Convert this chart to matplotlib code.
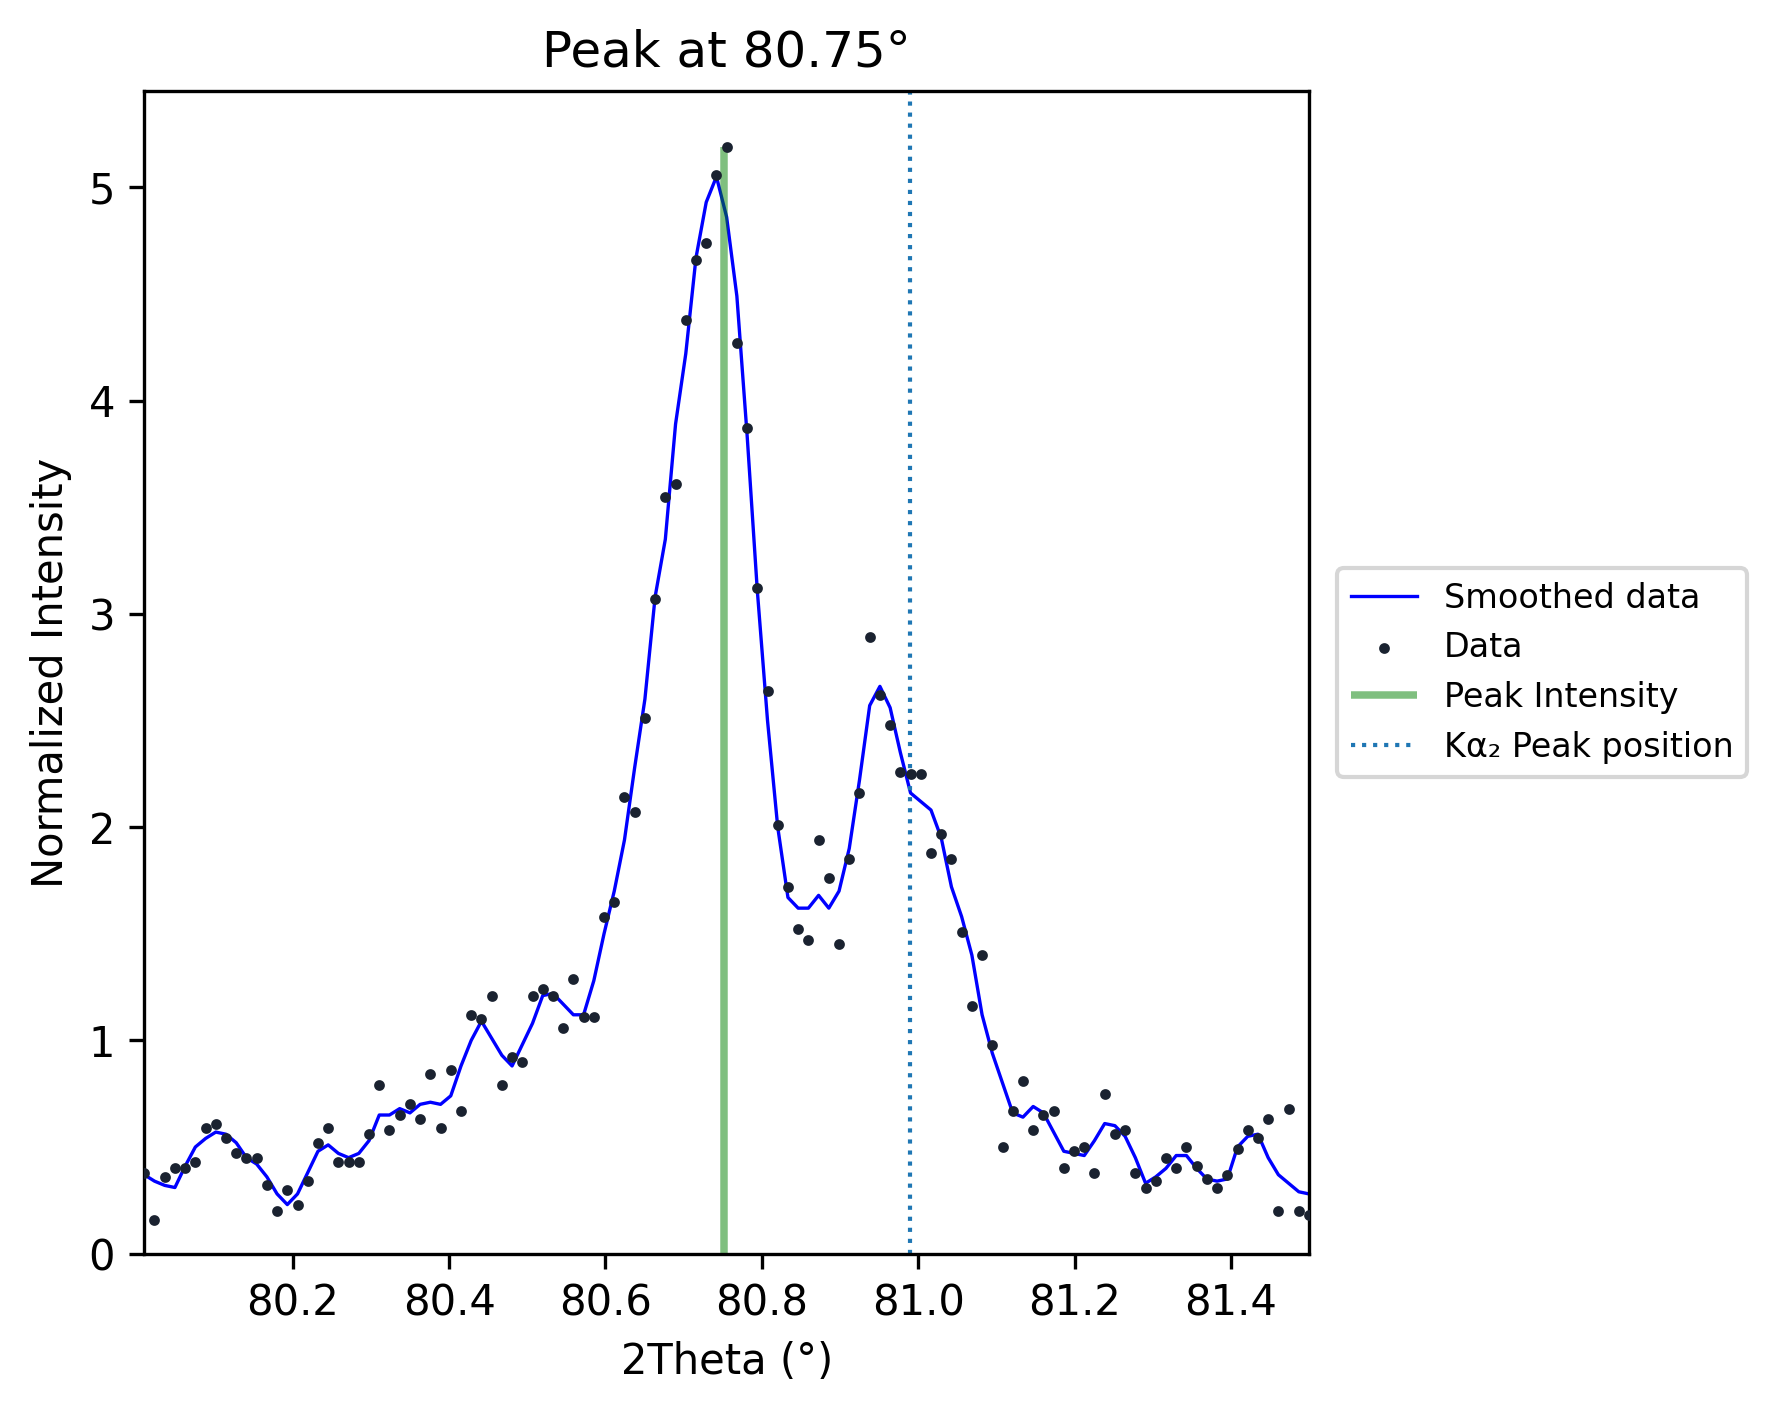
import matplotlib.pyplot as plt
import numpy as np

data_y = [0.38, 0.16, 0.36, 0.40, 0.40, 0.43, 0.59, 0.61, 0.54, 0.47,
          0.45, 0.45, 0.32, 0.20, 0.30, 0.23, 0.34, 0.52, 0.59, 0.43,
          0.43, 0.43, 0.56, 0.79, 0.58, 0.65, 0.70, 0.63, 0.84, 0.59,
          0.86, 0.67, 1.12, 1.10, 1.21, 0.79, 0.92, 0.90, 1.21, 1.24,
          1.21, 1.06, 1.29, 1.11, 1.11, 1.58, 1.65, 2.14, 2.07, 2.51,
          3.07, 3.55, 3.61, 4.38, 4.66, 4.74, 5.06, 5.19, 4.27, 3.87,
          3.12, 2.64, 2.01, 1.72, 1.52, 1.47, 1.94, 1.76, 1.45, 1.85,
          2.16, 2.89, 2.62, 2.48, 2.26, 2.25, 2.25, 1.88, 1.97, 1.85,
          1.51, 1.16, 1.40, 0.98, 0.50, 0.67, 0.81, 0.58, 0.65, 0.67,
          0.40, 0.48, 0.50, 0.38, 0.75, 0.56, 0.58, 0.38, 0.31, 0.34,
          0.45, 0.40, 0.50, 0.41, 0.35, 0.31, 0.37, 0.49, 0.58, 0.54,
          0.63, 0.20, 0.68, 0.20, 0.18]
smooth_y = [0.37, 0.34, 0.32, 0.31, 0.41, 0.50, 0.54, 0.57, 0.56, 0.52,
            0.45, 0.42, 0.36, 0.28, 0.23, 0.28, 0.38, 0.48, 0.51, 0.47,
            0.45, 0.47, 0.53, 0.65, 0.65, 0.68, 0.66, 0.70, 0.71, 0.70,
            0.74, 0.88, 1.00, 1.09, 1.01, 0.93, 0.88, 0.98, 1.08, 1.21,
            1.22, 1.17, 1.12, 1.12, 1.28, 1.50, 1.70, 1.94, 2.28, 2.60,
            3.08, 3.35, 3.89, 4.22, 4.67, 4.93, 5.05, 4.86, 4.49, 3.84,
            3.11, 2.50, 2.00, 1.67, 1.62, 1.62, 1.68, 1.62, 1.70, 1.90,
            2.22, 2.57, 2.66, 2.56, 2.35, 2.16, 2.12, 2.08, 1.95, 1.72,
            1.58, 1.40, 1.12, 0.94, 0.80, 0.66, 0.64, 0.69, 0.66, 0.57,
            0.48, 0.47, 0.46, 0.53, 0.61, 0.60, 0.55, 0.45, 0.33, 0.36,
            0.40, 0.46, 0.46, 0.40, 0.35, 0.34, 0.35, 0.50, 0.55, 0.56,
            0.45, 0.37, 0.33, 0.29, 0.28]
x = np.linspace(80.01, 81.5, len(data_y))
peak_pos = 80.751
peak_int = 5.19
ka2_pos = 80.99

fig, ax = plt.subplots(figsize=(1781/300, 1407/300), dpi=300)
fig.subplots_adjust(left=0.081, right=0.735, top=0.935, bottom=0.109)
ax.plot(x, smooth_y, color='blue', linewidth=0.8, label='Smoothed data')
ax.scatter(x, data_y, s=2.5, color='#1a2230', label='Data', zorder=3)
ax.vlines(peak_pos, 0, peak_int, color='green', alpha=0.5, linewidth=1.8, label='Peak Intensity')
ax.axvline(ka2_pos, color='C0', linestyle=':', linewidth=1.0, label='Kα₂ Peak position')
ax.set_xlim(x[0], x[-1])
ax.set_ylim(0, peak_int * 1.05)
ax.set_xticks([80.2, 80.4, 80.6, 80.8, 81.0, 81.2, 81.4])
ax.set_xlabel('2Theta (°)')
ax.set_ylabel('Normalized Intensity')
ax.set_title('Peak at 80.75°')
ax.legend(loc='center left', bbox_to_anchor=(1.01, 0.5), fontsize=8)
fig.savefig('out.png')
